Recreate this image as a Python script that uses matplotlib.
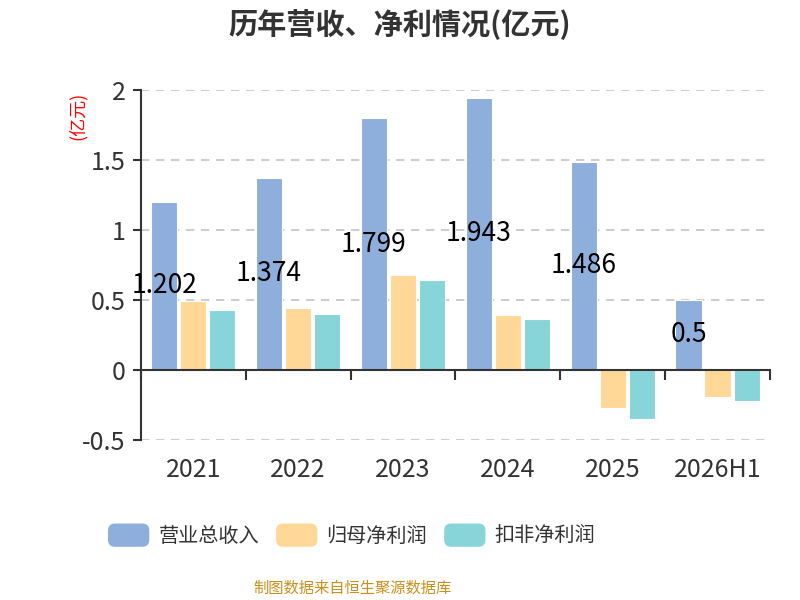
import matplotlib
matplotlib.use('Agg')
import matplotlib.pyplot as plt
import numpy as np
from matplotlib.patches import FancyBboxPatch, Patch
from matplotlib.legend_handler import HandlerPatch
from matplotlib.ticker import FuncFormatter

plt.rcParams['font.family'] = ['Noto Sans CJK SC', 'DejaVu Sans']
plt.rcParams['axes.unicode_minus'] = False

# ── 数据 ─────────────────────────────────────────────
years = ['2021', '2022', '2023', '2024', '2025', '2026H1']
revenue = [1.202, 1.374, 1.799, 1.943, 1.486, 0.5]
net_profit = [0.49, 0.445, 0.68, 0.39, -0.27, -0.19]
net_profit_ded = [0.43, 0.40, 0.64, 0.365, -0.35, -0.22]
series_names = ['营业总收入', '归母净利润', '扣非净利润']

C_REV, C_NET, C_DED = '#8EAEDB', '#FFD898', '#87D5D8'
TXT = '#333333'


class RoundHandler(HandlerPatch):
    def create_artists(self, legend, orig_handle, xdescent, ydescent,
                       width, height, fontsize, trans):
        p = FancyBboxPatch((-xdescent, -ydescent), width, height,
                           boxstyle='round,pad=0,rounding_size=5',
                           facecolor=orig_handle.get_facecolor(),
                           edgecolor='none', transform=trans)
        return [p]


fig = plt.figure(figsize=(8, 6), dpi=100)
ax = fig.add_axes([0.176, 0.2667, 0.7865, 0.5833])

x = np.arange(len(years))
w = 0.25
gap = 0.027
for vals, color, off in [(revenue, C_REV, -1), (net_profit, C_NET, 0),
                         (net_profit_ded, C_DED, 1)]:
    ax.bar(x + off * (w + gap), vals, width=w, color=color,
           edgecolor='white', linewidth=0.8, zorder=3)

# 营收数值标签(柱子中部)
for xi, v in zip(x, revenue):
    ax.text(xi - (w + gap), v / 2, f'{v:g}', ha='center', va='center',
            fontsize=19, color='black', zorder=4)

ax.set_xlim(-0.5, len(years) - 0.5)
ax.set_ylim(-0.5, 2)
ax.set_yticks([-0.5, 0, 0.5, 1, 1.5, 2])
ax.yaxis.set_major_formatter(FuncFormatter(lambda v, p: f'{v:g}'))
ax.grid(axis='y', linestyle=(0, (5, 4)), color='#C4C4C4', linewidth=1.2,
        zorder=0)

for s in ['top', 'right']:
    ax.spines[s].set_visible(False)
ax.spines['left'].set_color(TXT)
ax.spines['left'].set_linewidth(1.5)
ax.spines['bottom'].set_position(('data', 0))
ax.spines['bottom'].set_color(TXT)
ax.spines['bottom'].set_linewidth(1.5)
ax.spines['bottom'].set_zorder(5)

ax.set_xticks(np.arange(len(years) + 1) - 0.5)
ax.tick_params(axis='x', length=7, width=1.5, color=TXT, labelbottom=False)
ax.tick_params(axis='y', length=6, width=1.5, color=TXT, labelsize=18,
               labelcolor=TXT, pad=5)

sec = ax.secondary_xaxis('bottom')
sec.set_xticks(x, labels=years)
sec.spines['bottom'].set_visible(False)
sec.tick_params(length=0, labelsize=18, labelcolor=TXT, pad=12)

fig.text(0.5, 0.961, '历年营收、净利情况(亿元)', ha='center', va='center',
         fontsize=21, fontweight='bold', color=TXT)
fig.text(0.097, 0.8075, '(亿元)', rotation=90, ha='center', va='center',
         fontsize=13, color='red')

handles = [Patch(facecolor=c) for c in (C_REV, C_NET, C_DED)]
fig.legend(handles, series_names, loc='center left',
           bbox_to_anchor=(0.135, 0.108), frameon=False, ncol=3,
           fontsize=14.5, handlelength=2.05, handleheight=1.4,
           handletextpad=0.45, columnspacing=0.85, borderpad=0,
           borderaxespad=0, labelcolor=TXT,
           handler_map={Patch: RoundHandler()})

fig.text(0.441, 0.02, '制图数据来自恒生聚源数据库', ha='center', va='center',
         fontsize=11, color='#C8901A')

fig.savefig('out.png', dpi=100)
